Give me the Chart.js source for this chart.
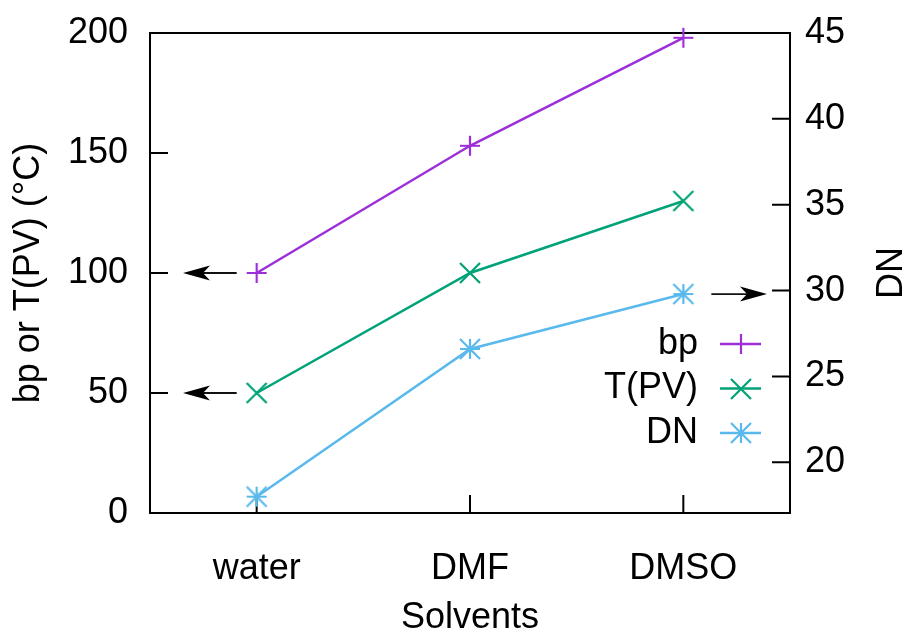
<!DOCTYPE html>
<html>
<head>
<meta charset="utf-8">
<script src="https://cdn.jsdelivr.net/npm/chart.js@4"></script>
<style>
  html, body { margin: 0; padding: 0; background: #fff; }
</style>
</head>
<body>
<canvas id="solventChart" width="907" height="631"></canvas>
<script>
// solvent properties: boiling point, PV processing temperature, donor number
const solvents = ['water', 'DMF', 'DMSO'];
const boilingPoint = [100, 153, 198];
const pvTemperature = [50, 100, 130];
const donorNumber = [18.0, 26.6, 29.8];
const tempTicks = [0, 50, 100, 150, 200];
const dnTicks = [20, 25, 30, 35, 40, 45];

const FONT = "'Liberation Sans', Arial, Helvetica, sans-serif";
const COLORS = ['#9c2fd8', '#00a277', '#5ab9ec'];

// gnuplot-like point symbols drawn onto small canvases
function makeMarker(kind, color) {
    const r = 10;
    const c = document.createElement('canvas');
    c.width = c.height = 2 * r + 4;
    const g = c.getContext('2d');
    const m = c.width / 2;
    g.strokeStyle = color;
    g.lineWidth = 2.2;
    g.beginPath();
    if (kind === 'plus' || kind === 'star') {
        g.moveTo(m - r, m); g.lineTo(m + r, m);
        g.moveTo(m, m - r); g.lineTo(m, m + r);
    }
    if (kind === 'cross' || kind === 'star') {
        g.moveTo(m - r, m - r); g.lineTo(m + r, m + r);
        g.moveTo(m - r, m + r); g.lineTo(m + r, m - r);
    }
    g.stroke();
    return c;
}

const markers = [
    makeMarker('plus', COLORS[0]),
    makeMarker('cross', COLORS[1]),
    makeMarker('star', COLORS[2])
];

// border box with inward tick marks
const framePlugin = {
    id: 'frame',
    beforeDatasetsDraw(chart) {
        const { ctx, chartArea: a, scales } = chart;
        ctx.save();
        ctx.strokeStyle = '#000';
        ctx.lineWidth = 2;
        ctx.strokeRect(a.left, a.top, a.right - a.left, a.bottom - a.top);
        ctx.beginPath();
        tempTicks.forEach(v => {
            const y = scales.y.getPixelForValue(v);
            ctx.moveTo(a.left, y); ctx.lineTo(a.left + 18, y);
        });
        dnTicks.forEach(v => {
            const y = scales.y2.getPixelForValue(v);
            ctx.moveTo(a.right, y); ctx.lineTo(a.right - 18, y);
        });
        solvents.forEach((s, i) => {
            const x = scales.x.getPixelForValue(i);
            ctx.moveTo(x, a.bottom); ctx.lineTo(x, a.bottom - 18);
        });
        ctx.stroke();
        ctx.restore();
    }
};

function drawArrow(ctx, x0, y, x1) {
    const dir = Math.sign(x1 - x0);
    ctx.beginPath();
    ctx.moveTo(x0, y);
    ctx.lineTo(x1 - dir * 20, y);
    ctx.stroke();
    ctx.beginPath();
    ctx.moveTo(x1, y);
    ctx.lineTo(x1 - dir * 27, y - 7.5);
    ctx.lineTo(x1 - dir * 20, y);
    ctx.lineTo(x1 - dir * 27, y + 7.5);
    ctx.closePath();
    ctx.fill();
}

// arrows pointing to the axis each series belongs to, legend, right axis title
const annotatePlugin = {
    id: 'annotate',
    afterDatasetsDraw(chart) {
        const { ctx, chartArea: a, scales } = chart;
        ctx.save();
        ctx.strokeStyle = '#111';
        ctx.fillStyle = '#000';
        ctx.lineWidth = 1.8;
        const xw = scales.x.getPixelForValue(0);
        drawArrow(ctx, xw - 20, scales.y.getPixelForValue(boilingPoint[0]), a.left + 33);
        drawArrow(ctx, xw - 20, scales.y.getPixelForValue(pvTemperature[0]), a.left + 33);
        const xd = scales.x.getPixelForValue(2);
        drawArrow(ctx, xd + 28, scales.y2.getPixelForValue(donorNumber[2]), a.right - 23);

        // legend
        ctx.font = '36px ' + FONT;
        ctx.textAlign = 'right';
        ctx.textBaseline = 'middle';
        chart.data.datasets.forEach((ds, i) => {
            const y = a.top + 311 + i * 44.5;
            ctx.fillStyle = '#000';
            ctx.fillText(ds.label, a.right - 92, y);
            ctx.strokeStyle = ds.borderColor;
            ctx.lineWidth = 2.5;
            ctx.beginPath();
            ctx.moveTo(a.right - 70, y);
            ctx.lineTo(a.right - 29, y);
            ctx.stroke();
            const mk = markers[i];
            ctx.drawImage(mk, Math.round(a.right - 49.5 - mk.width / 2), Math.round(y - mk.height / 2));
        });

        // right axis title, reading bottom to top
        ctx.fillStyle = '#000';
        ctx.textAlign = 'center';
        ctx.translate(892, (a.top + a.bottom) / 2);
        ctx.rotate(-Math.PI / 2);
        ctx.fillText('DN', 0, 0);
        ctx.restore();
    }
};

// vertical axes: no extra room reserved for label overflow
function noOverflow(scale) {
    scale.paddingTop = 0;
    scale.paddingBottom = 0;
}

const ctx = document.getElementById('solventChart').getContext('2d');
new Chart(ctx, {
    type: 'line',
    data: {
        labels: solvents,
        datasets: [
            { label: 'bp', data: boilingPoint, yAxisID: 'y' },
            { label: 'T(PV)', data: pvTemperature, yAxisID: 'y' },
            { label: 'DN', data: donorNumber, yAxisID: 'y2' }
        ].map((ds, i) => Object.assign(ds, {
            borderColor: COLORS[i],
            backgroundColor: COLORS[i],
            borderWidth: 2.5,
            tension: 0,
            pointStyle: markers[i],
            pointRadius: 10,
            clip: false
        }))
    },
    options: {
        responsive: false,
        animation: false,
        layout: { padding: { top: 33, left: 0, right: 0, bottom: 0 } },
        plugins: {
            legend: { display: false },
            tooltip: { enabled: false }
        },
        scales: {
            x: {
                type: 'category',
                offset: true,
                grid: { display: false, drawTicks: false },
                border: { display: false },
                ticks: { color: '#000', font: { family: FONT, size: 36 }, padding: 34 },
                title: {
                    display: true, text: 'Solvents', color: '#000',
                    font: { family: FONT, size: 36, lineHeight: 1 },
                    padding: { top: 0, bottom: -5 }
                },
                afterFit(scale) { scale.height = 118; }
            },
            y: {
                position: 'left',
                min: 0,
                max: 200,
                grid: { display: false, drawTicks: false },
                border: { display: false },
                afterBuildTicks(scale) { scale.ticks = tempTicks.map(v => ({ value: v })); },
                ticks: { color: '#000', font: { family: FONT, size: 36 }, padding: 22 },
                title: {
                    display: true, text: 'bp or T(PV) (°C)', color: '#000',
                    font: { family: FONT, size: 36, lineHeight: 1 },
                    padding: { top: 11, bottom: 0 }
                },
                afterFit(scale) { scale.width = 150; noOverflow(scale); }
            },
            y2: {
                position: 'right',
                min: 17.05,
                max: 45,
                grid: { display: false, drawTicks: false },
                border: { display: false },
                afterBuildTicks(scale) { scale.ticks = dnTicks.map(v => ({ value: v })); },
                ticks: { color: '#000', font: { family: FONT, size: 36 }, padding: 15 },
                afterFit(scale) { scale.width = 117; noOverflow(scale); }
            }
        }
    },
    plugins: [framePlugin, annotatePlugin]
});
</script>
</body>
</html>
